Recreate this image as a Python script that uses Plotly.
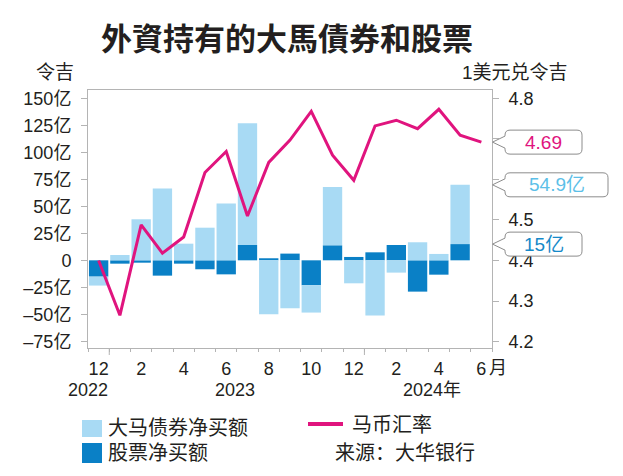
import plotly.graph_objects as go

# ---------------- data ----------------
months = ["2022-12", "2023-01", "2023-02", "2023-03", "2023-04", "2023-05", "2023-06",
          "2023-07", "2023-08", "2023-09", "2023-10", "2023-11", "2023-12",
          "2024-01", "2024-02", "2024-03", "2024-04", "2024-05", "2024-06"]
month_labels = ["12", "2", "4", "6", "8", "10", "12", "2", "4", "6"]
# net purchases (亿令吉), Dec 2022 - May 2024
bond = [-8.3, 4.9, 38.0, 66.4, 15.4, 30.2, 52.5, 112.7, -50.0, -44.4, -25.3, 54.0,
        -21.3, -51.2, -11.4, 16.7, 5.9, 54.9]
stock = [-15.1, -3.1, -2.2, -14.2, -3.1, -8.3, -13.0, 14.2, 1.9, 6.2, -23.1, 13.9,
         3.1, 7.4, 14.2, -29.0, -13.3, 15.0]
# USD/MYR, Dec 2022 - Jun 2024
rate = [4.400, 4.265, 4.488, 4.418, 4.458, 4.617, 4.669, 4.510, 4.642, 4.697, 4.768,
        4.660, 4.598, 4.732, 4.746, 4.725, 4.773, 4.709, 4.692]
left_ticks = [150, 125, 100, 75, 50, 25, 0, -25, -50, -75]
right_ticks = [4.8, 4.7, 4.6, 4.5, 4.4, 4.3, 4.2]
right_tick_text = ["4.8", "", "4.6", "4.5", "4.4", "4.3", "4.2"]  # 4.7 hidden by callout

LIGHT = "#A8DAF4"
DARK = "#0A80C6"
MAG = "#E0147E"
TXT = "#231F20"
AX = "#B4B4B4"
FONT = "Liberation Sans, Noto Sans CJK SC, sans-serif"

# page body adds an 8px margin, so the figure is 8px smaller and shifted
OFF = 8
W, H = 623 - OFF, 476 - OFF
L, R, T, B = 88, 492, 90, 348          # plot area in reference-picture pixels
YR = [-81.2, 157.7]
Y2R = [4.1844, 4.8205]


def px(x):
    return (x - L) / (R - L)


def py(y):
    return (B - y) / (B - T)


idx = list(range(len(months)))
bar_x = idx[:len(bond)]

fig = go.Figure()
fig.add_trace(go.Bar(x=bar_x, y=stock, marker=dict(color=DARK, line=dict(width=0)),
                     name="股票净买额", showlegend=False))
fig.add_trace(go.Bar(x=bar_x, y=bond, marker=dict(color=LIGHT, line=dict(width=0)),
                     name="大马债券净买额", showlegend=False))
fig.add_trace(go.Scatter(x=idx, y=rate, yaxis="y2", mode="lines",
                         line=dict(color=MAG, width=3), name="马币汇率", showlegend=False))

shapes = []
annotations = []

# year boundary long ticks
for i in range(1, len(months)):
    if months[i].endswith("-01"):
        shapes.append(dict(type="line", xref="x", yref="paper", x0=i - 0.5, x1=i - 0.5,
                           y0=0, y1=-7 / (B - T), line=dict(color=AX, width=1)))

# year labels
annotations += [
    dict(text="2022", x=px(88), y=py(390), xref="paper", yref="paper", showarrow=False,
         xanchor="center", yanchor="middle", font=dict(size=18, color=TXT, family=FONT)),
    dict(text="2023", x=px(235), y=py(390), xref="paper", yref="paper", showarrow=False,
         xanchor="center", yanchor="middle", font=dict(size=18, color=TXT, family=FONT)),
    dict(text="2024年", x=px(401), y=py(390), xref="paper", yref="paper", showarrow=False,
         xanchor="left", yanchor="middle", font=dict(size=18, color=TXT, family=FONT)),
    dict(text="月", x=px(487), y=py(368), xref="paper", yref="paper", showarrow=False,
         xanchor="left", yanchor="middle", font=dict(size=18, color=TXT, family=FONT)),
]

# title & axis titles
annotations += [
    dict(text="<b>外資持有的大馬債券和股票</b>", x=px(287), y=py(36), xref="paper", yref="paper",
         showarrow=False, xanchor="center", yanchor="middle",
         font=dict(size=31, color=TXT, family="Noto Sans CJK TC, sans-serif")),
    dict(text="令吉", x=px(55), y=py(72), xref="paper", yref="paper", showarrow=False,
         xanchor="center", yanchor="middle", font=dict(size=19, color=TXT, family=FONT)),
    dict(text="1美元兑令吉", x=px(515), y=py(72), xref="paper", yref="paper", showarrow=False,
         xanchor="center", yanchor="middle", font=dict(size=19, color=TXT, family=FONT)),
]


# callouts
def callout(val, yref, rng, right_px, text, color):
    ppu = (B - T) / (rng[1] - rng[0])
    d = lambda p: p / ppu  # pixel -> data units
    xt, xl, xr = px(492.5), px(505), px(right_px)
    rx = 5 / (R - L)
    top, bot = val + d(12), val - d(12)
    r = d(5)
    path = (f"M {xl},{val + d(6)} L {xt},{val} L {xl},{val - d(6)} "
            f"L {xl},{bot + r} Q {xl},{bot} {xl + rx},{bot} "
            f"L {xr - rx},{bot} Q {xr},{bot} {xr},{bot + r} "
            f"L {xr},{top - r} Q {xr},{top} {xr - rx},{top} "
            f"L {xl + rx},{top} Q {xl},{top} {xl},{top - r} Z")
    shapes.append(dict(type="path", path=path, xref="paper", yref=yref, layer="above",
                       fillcolor="white", line=dict(color="#8C8C8C", width=1)))
    annotations.append(dict(text=text, x=(xl + xr) / 2, y=val, xref="paper", yref=yref,
                            showarrow=False, xanchor="center", yanchor="middle",
                            font=dict(size=19, color=color, family=FONT)))


callout(rate[-1], "y2", Y2R, 582, f"{rate[-1]:.2f}", MAG)
callout(bond[-1] + stock[-1], "y", YR, 608, f"{bond[-1]}亿", "#5CBFE8")
callout(stock[-1], "y", YR, 582, f"{stock[-1]:g}亿", "#1589C9")

# manual legend
shapes += [
    dict(type="rect", xref="paper", yref="paper", x0=px(82), x1=px(102), y0=py(420), y1=py(437),
         fillcolor=LIGHT, line=dict(width=0)),
    dict(type="rect", xref="paper", yref="paper", x0=px(82), x1=px(102), y0=py(443), y1=py(463),
         fillcolor=DARK, line=dict(width=0)),
    dict(type="line", xref="paper", yref="paper", x0=px(308), x1=px(343), y0=py(424), y1=py(424),
         line=dict(color=MAG, width=4)),
]
for t, x, y in [("大马债券净买额", 106, 428), ("股票净买额", 106, 453),
                ("马币汇率", 350, 425), ("来源：大华银行", 333, 453)]:
    annotations.append(dict(text=t, x=px(x), y=py(y), xref="paper", yref="paper",
                            showarrow=False, xanchor="left", yanchor="middle",
                            font=dict(size=20, color=TXT, family=FONT)))


def fmt(v):
    if v == 0:
        return "0"
    return ("–" if v < 0 else "") + f"{abs(v)}亿"


fig.update_layout(
    width=W, height=H, autosize=False,
    margin=dict(l=L - OFF, r=623 - R, t=T - OFF, b=476 - B, autoexpand=False),
    paper_bgcolor="white", plot_bgcolor="white",
    barmode="relative", bargap=0.09,
    font=dict(family=FONT, size=18, color=TXT),
    xaxis=dict(range=[-0.5, len(months) - 0.5], showgrid=False, zeroline=False,
               tickvals=[i for i in idx if i % 2 == 0], ticktext=month_labels,
               ticks="", ticklabelstandoff=4,
               tickfont=dict(size=18, color=TXT, family=FONT),
               minor=dict(tickvals=[i - 0.5 for i in range(len(months) + 1)],
                          ticks="outside", ticklen=3, tickcolor=AX, showgrid=False),
               showline=True, linecolor=AX, linewidth=1, mirror=True),
    yaxis=dict(range=YR, showgrid=False, zeroline=False,
               tickvals=left_ticks, ticktext=[fmt(v) for v in left_ticks],
               ticks="outside", ticklen=6, tickcolor=AX, ticklabelstandoff=6,
               tickfont=dict(size=18, color=TXT, family=FONT),
               showline=True, linecolor=AX, linewidth=1),
    yaxis2=dict(range=Y2R, overlaying="y", side="right", showgrid=False, zeroline=False,
                tickvals=right_ticks, ticktext=right_tick_text,
                ticks="outside", ticklen=6, tickcolor=AX, ticklabelstandoff=6,
                tickfont=dict(size=18, color=TXT, family=FONT),
                showline=True, linecolor=AX, linewidth=1),
    shapes=shapes, annotations=annotations,
)

fig.write_html("out.html")
